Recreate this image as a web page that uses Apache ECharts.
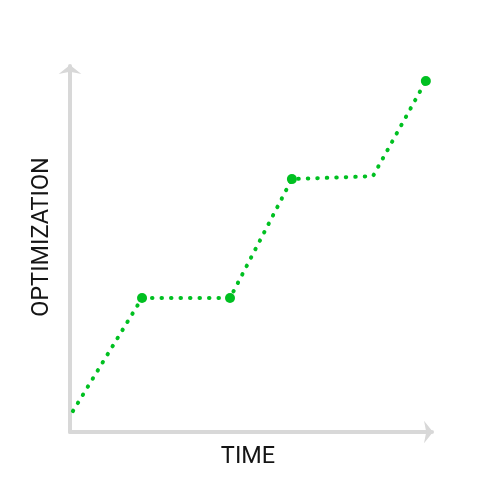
<!DOCTYPE html>
<html>
<head>
<meta charset="utf-8">
<script src="https://cdn.jsdelivr.net/npm/echarts@6/dist/echarts.min.js"></script>
<style>
    html, body { margin: 0; padding: 0; background: #fff; }
    #chart { width: 500px; height: 500px; }
</style>
</head>
<body>
<div id="chart"></div>
<script>
    // 数据: 时间 / 优化程度 (0-100)
    var timeValues = [0.8, 19.9, 44.2, 61.3, 83.7, 98.3];
    var optValues = [5.7, 36.6, 36.6, 69.1, 69.9, 95.9];
    var markerShown = [false, true, true, true, false, true];
    var xName = 'TIME';
    var yName = 'OPTIMIZATION';

    var green = '#00c021',
        axisGray = '#d8d8d8';

    var seriesData = [];
    for (var i = 0; i < timeValues.length; i++) {
        seriesData.push({
            value: [timeValues[i], optValues[i]],
            symbol: markerShown[i] ? 'circle' : 'none'
        });
    }

    var myEcharts = echarts.init(document.getElementById('chart'));

    var axisCommon = {
        type: 'value',
        min: 0,
        max: 100,
        nameLocation: 'middle',
        nameTextStyle: {
            color: '#151515',
            fontSize: 23.5,
            fontFamily: 'Roboto',
            fontWeight: 'normal'
        },
        axisLine: {
            show: true,
            symbol: ['none', 'arrow'],
            symbolSize: [17, 9],
            symbolOffset: [0, 1],
            lineStyle: {
                color: axisGray,
                width: 4
            }
        },
        axisTick: { show: false },
        axisLabel: { show: false },
        splitLine: { show: false }
    };

    var option = {
        animation: false,
        grid: {
            left: 70,
            right: 68,
            top: 66,
            bottom: 68
        },
        xAxis: echarts.util.merge({
            name: xName,
            nameGap: 13,
            nameTextStyle: { padding: [0, 6, 0, 0] }
        }, axisCommon, true),
        yAxis: echarts.util.merge({
            name: yName,
            nameGap: 16,
            nameTextStyle: { padding: [0, 0, 0, 24] }
        }, axisCommon, true),
        series: [{
            type: 'line',
            data: seriesData,
            symbolSize: 10,
            itemStyle: { color: green },
            lineStyle: {
                color: green,
                width: 4,
                type: [0.5, 9],
                cap: 'round'
            }
        }]
    };

    myEcharts.setOption(option);
</script>
</body>
</html>
